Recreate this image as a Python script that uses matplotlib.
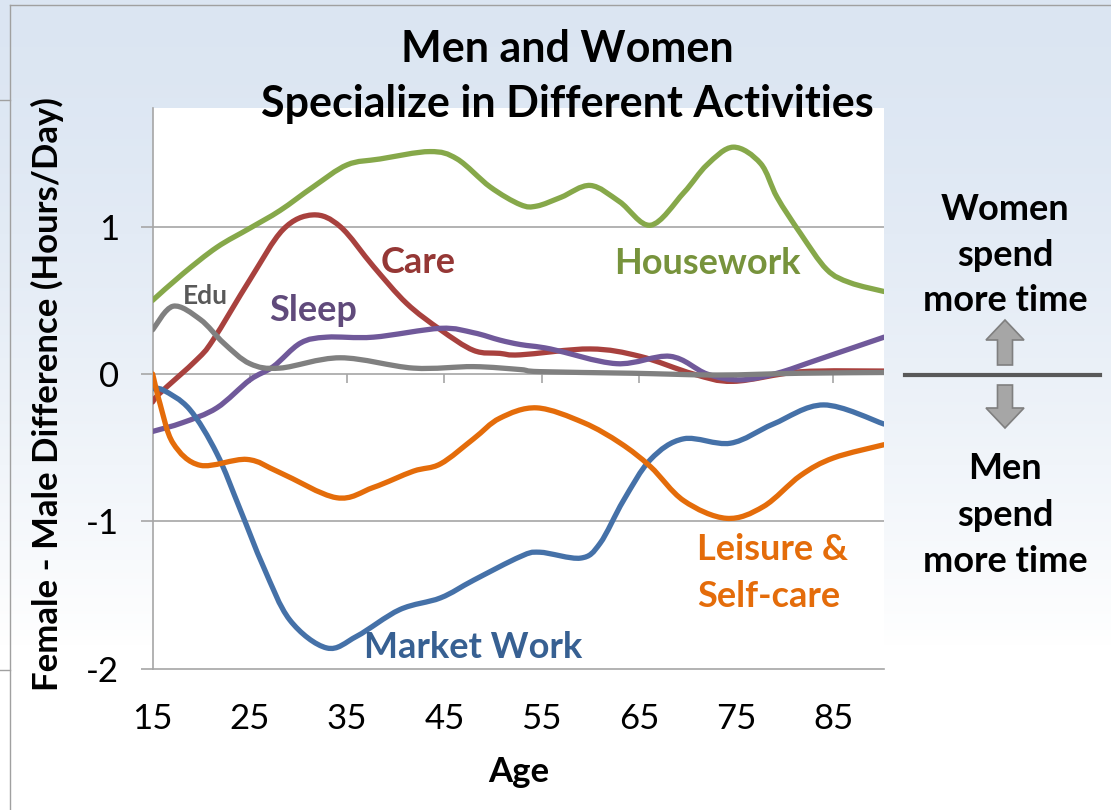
import numpy as np
import matplotlib
matplotlib.use("Agg")
import matplotlib.pyplot as plt
from matplotlib.lines import Line2D
from matplotlib.patches import FancyArrow, PathPatch
from matplotlib.path import Path

plt.rcParams['font.family'] = ['Lato', 'DejaVu Sans']

# ages / values (female - male, hours per day)
house_age = [15, 18.1, 21.6, 25, 28.1, 31.5, 35, 38.4, 43.5, 46.3, 49.7, 52.8, 54.5, 57, 60, 63, 66.2, 69.6, 72, 74.7, 77.5, 79.2, 81.6, 84.3, 86.7, 90.2]
house_val = [0.50, 0.68, 0.86, 0.99, 1.11, 1.27, 1.42, 1.46, 1.51, 1.46, 1.27, 1.15, 1.14, 1.20, 1.28, 1.17, 1.01, 1.23, 1.42, 1.54, 1.43, 1.20, 0.955, 0.71, 0.62, 0.56]

care_age = [15, 15.75, 19.5, 21.2, 25, 28.4, 31.5, 34.3, 37.7, 41.1, 44.6, 48, 50.7, 52.8, 60, 65.1, 70.6, 74.7, 81.6, 90.2]
care_val = [-0.19, -0.13, 0.095, 0.23, 0.64, 0.98, 1.08, 1.0, 0.73, 0.48, 0.30, 0.16, 0.14, 0.13, 0.17, 0.12, 0.0, -0.05, 0.015, 0.02]

sleep_age = [15, 18.1, 21.6, 25, 27.4, 30.2, 32.9, 37.7, 44.6, 48, 50.7, 52.8, 55.9, 62.7, 68.2, 72, 75.4, 79.2, 83.3, 90.2]
sleep_val = [-0.39, -0.33, -0.23, -0.04, 0.05, 0.21, 0.25, 0.25, 0.31, 0.28, 0.23, 0.20, 0.17, 0.07, 0.12, 0.0, -0.04, 0.005, 0.095, 0.25]

edu_age = [15, 17.1, 19.9, 22.3, 25, 28.1, 34.3, 41.8, 48, 52.8, 54.8, 64.4, 73, 81.6, 90.2]
edu_val = [0.30, 0.46, 0.37, 0.21, 0.07, 0.04, 0.11, 0.04, 0.05, 0.03, 0.016, 0.005, -0.007, 0.005, 0.01]

market_age = [15, 16.1, 18.8, 21.6, 24, 26.4, 29.1, 32.9, 36, 40.4, 44.6, 48, 52.8, 54.8, 59, 61, 63.4, 66.2, 69.6, 74.4, 78.8, 84, 90.2]
market_val = [-0.10, -0.11, -0.24, -0.54, -0.92, -1.31, -1.67, -1.86, -1.78, -1.60, -1.52, -1.40, -1.24, -1.21, -1.25, -1.15, -0.86, -0.58, -0.44, -0.47, -0.34, -0.21, -0.34]

leisure_age = [15, 15.75, 17.1, 19.9, 24.7, 28.1, 33.9, 37.7, 41.8, 44.6, 48, 50.7, 54.5, 59.3, 63.1, 66.2, 69.6, 74, 77.8, 81.6, 85, 90.2]
leisure_val = [0.0, -0.20, -0.47, -0.62, -0.58, -0.67, -0.84, -0.77, -0.66, -0.61, -0.44, -0.30, -0.23, -0.33, -0.47, -0.63, -0.86, -0.98, -0.90, -0.69, -0.57, -0.48]

x_ticks = [15, 25, 35, 45, 55, 65, 75, 85]
y_ticks = [-2, -1, 0, 1]


def smooth_line(ax, xs, ys, color, z=3):
    # Excel-style smoothed line: cubic Bezier segments through the data points
    p = np.column_stack([xs, ys]).astype(float)
    verts = [p[0]]
    codes = [Path.MOVETO]
    n = len(p)
    for i in range(n - 1):
        p0 = p[max(i - 1, 0)]
        p1 = p[i]
        p2 = p[i + 1]
        p3 = p[min(i + 2, n - 1)]
        verts += [p1 + (p2 - p0) / 6, p2 - (p3 - p1) / 6, p2]
        codes += [Path.CURVE4] * 3
    ax.add_patch(PathPatch(Path(verts, codes), fill=False, edgecolor=color, lw=3.8,
                           capstyle='round', joinstyle='round', zorder=z))


fig = plt.figure(figsize=(11.11, 8.10), dpi=100)

# slide background gradient
bg = fig.add_axes([0, 0, 1, 1], zorder=-5)
grad = np.linspace(0, 1, 256).reshape(-1, 1)
top = np.array([0.86, 0.90, 0.95])
cols = top[None, None, :] + (1 - top)[None, None, :] * np.clip(grad[:, :, None] * 1.25, 0, 1) ** 1.5
bg.imshow(cols, aspect='auto', extent=[0, 1, 0, 1], origin='upper')
bg.axis('off')

ax = fig.add_axes([0.1374, 0.1746, 0.6583, 0.6921])
ax.set_facecolor('white')

smooth_line(ax, house_age, house_val, '#86A84A')
smooth_line(ax, care_age, care_val, '#A8413E')
smooth_line(ax, sleep_age, sleep_val, '#70599A')
smooth_line(ax, edu_age, edu_val, '#808080', z=4)
smooth_line(ax, market_age, market_val, '#4571A8')
smooth_line(ax, leisure_age, leisure_val, '#E46C0A')

ax.set_xlim(15, 90.2)
ax.set_ylim(-2, 1.806)

for v in [1, -1]:
    ax.axhline(v, color='#A6A6A6', lw=1.2, zorder=1)
ax.axhline(0, color='#A6A6A6', lw=1.2, zorder=1)
ax.vlines(x_ticks[1:], -0.06, 0, color='#A6A6A6', lw=1.2, zorder=1)

for s in ['top', 'right']:
    ax.spines[s].set_visible(False)
for s in ['left', 'bottom']:
    ax.spines[s].set_color('#A6A6A6')
    ax.spines[s].set_linewidth(1.2)

ax.set_xticks(x_ticks)
ax.set_yticks(y_ticks)
ax.set_yticklabels(['-2', '-1', '0', '1'])
ax.tick_params(axis='x', length=0, pad=25, labelsize=25)
ax.tick_params(axis='y', length=9, width=1.2, color='#A6A6A6', pad=15, labelsize=25)

ax.set_xlabel('Age', fontsize=25, fontweight='bold', labelpad=15)
ax.set_ylabel('Female - Male Difference (Hours/Day)', fontsize=25, fontweight='bold')
ax.yaxis.set_label_coords(-0.121, 0.49)

# line labels
ax.text(20.4, 0.53, 'Edu', color='#595959', fontsize=19, fontweight='bold', ha='center', va='center')
ax.text(31.5, 0.43, 'Sleep', color='#604A7B', fontsize=26, fontweight='bold', ha='center', va='center')
ax.text(42.3, 0.76, 'Care', color='#953735', fontsize=26, fontweight='bold', ha='center', va='center')
ax.text(72.0, 0.75, 'Housework', color='#77933C', fontsize=26, fontweight='bold', ha='center', va='center')
ax.text(71.0, -1.35, 'Leisure &\nSelf-care', color='#E46C0A', fontsize=26, fontweight='bold',
        ha='left', va='center', linespacing=1.5)
ax.text(48.0, -1.86, 'Market Work', color='#376092', fontsize=26, fontweight='bold', ha='center', va='center')

fig.text(0.511, 0.9056, 'Men and Women\nSpecialize in Different Activities', fontsize=31,
         fontweight='bold', ha='center', va='center', linespacing=1.45)

# right-hand annotation
fig.text(0.9046, 0.685, 'Women\nspend\nmore time', fontsize=26, fontweight='bold', ha='center',
         va='center', linespacing=1.45)
fig.text(0.9046, 0.364, 'Men\nspend\nmore time', fontsize=26, fontweight='bold', ha='center',
         va='center', linespacing=1.5)
fig.add_artist(Line2D([0.8146, 0.990], [0.537, 0.537], transform=fig.transFigure, color='#595959', lw=3))
fig.add_artist(FancyArrow(10.05, 4.45, 0, 0.45, width=0.15, head_width=0.38, head_length=0.2,
                          length_includes_head=True, transform=fig.dpi_scale_trans,
                          facecolor='#A6A6A6', edgecolor='#7F7F7F', lw=1.2))
fig.add_artist(FancyArrow(10.05, 4.25, 0, -0.43, width=0.15, head_width=0.38, head_length=0.2,
                          length_includes_head=True, transform=fig.dpi_scale_trans,
                          facecolor='#A6A6A6', edgecolor='#7F7F7F', lw=1.2))

# slide frame lines
frame = dict(transform=fig.transFigure, color='#A0A0A0', lw=1)
fig.add_artist(Line2D([0.009, 1], [0.994, 0.994], **frame))
fig.add_artist(Line2D([0.009, 0.009], [0, 0.994], **frame))
fig.add_artist(Line2D([0, 0.009], [0.877, 0.877], **frame))
fig.add_artist(Line2D([0, 0.009], [0.173, 0.173], **frame))

fig.savefig('out.png', dpi=100)
